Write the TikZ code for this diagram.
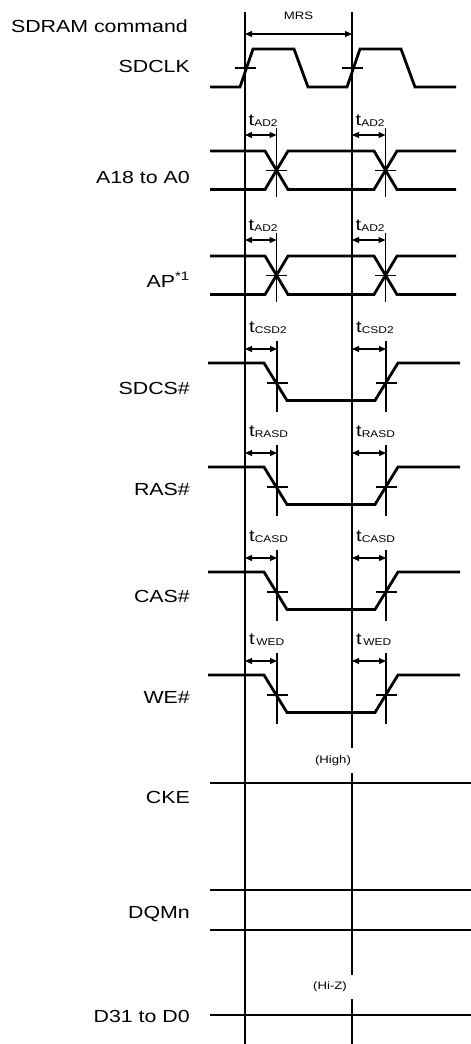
\documentclass[tikz,border=0pt]{standalone}
\usepackage{fontspec}
\setmainfont{Liberation Sans}[FakeStretch=1.22]
\usetikzlibrary{arrows.meta, positioning, calc}
\newcommand{\tsub}[1]{t\raisebox{-1.5pt}{\fontsize{9.8}{11}\selectfont #1}}

\begin{document}
\begin{tikzpicture}[x=1pt, y=-1pt,
   sig/.style = {line width=2.8pt},
   vline/.style = {line width=1.2pt},
   tick/.style = {line width=1.1pt},
   dim/.style = {line width=1.1pt,
     {Triangle[length=7pt,width=6pt]}-{Triangle[length=7pt,width=6pt]}},
   signame/.style = {anchor=base east, inner sep=0pt,
     font=\fontsize{17.5}{20}\selectfont},
   note/.style = {inner sep=0pt, font=\fontsize{10.8}{12}\selectfont},
   tlabel/.style = {anchor=base west, inner sep=0pt,
     font=\fontsize{16.5}{18}\selectfont}]
   \useasboundingbox (0,0) rectangle (471,1044);

   % reference edges
   \foreach \i/\x in {1/245, 2/352} {
     \coordinate (top\i) at (\x,12);
     \coordinate (bot\i) at (\x,1044);
     \draw[vline] (top\i) -- (bot\i);
   }
   \node[note] (mrs) at (298.5,15.5) {MRS};
   \coordinate (mrsL) at (245,34);
   \coordinate (mrsR) at (352,34);
   \draw[dim] (mrsL) -- (mrsR);

   % signal names
   \node[signame] (cmd) at (188,32) {SDRAM command};
   \foreach \n/\y/\s in {clk/72/SDCLK, addr/183/A18 to A0,
       ap/287/AP\textsuperscript{*1}, cs/394/SDCS\#, ras/495/RAS\#,
       cas/602/CAS\#, we/703/WE\#, cke/803/CKE, dqm/918/DQMn,
       data/1022/D31 to D0}
     \node[signame] (\n) at (190,\y) {\s};

   % SDCLK
   \draw[sig] (210,87) foreach \t in {245,352}
     { -- (\t-5,87) -- (\t+8,49) -- (\t+49,49) -- (\t+63,87) } -- (456,87);
   \foreach \t in {245,352}
     \draw[tick] (\t-10.5,68) -- (\t+10.5,68);

   % address rows
   \foreach \n/\y/\s in {addr/151/AD2, ap/256/AD2} {
     \draw[sig] (210,\y) -- (265,\y) -- (288,\y+38.5) -- (374,\y+38.5)
       -- (397,\y) -- (456,\y);
     \draw[sig] (210,\y+38.5) -- (265,\y+38.5) -- (288,\y) -- (374,\y)
       -- (397,\y+38.5) -- (456,\y+38.5);
     \foreach \i/\m/\l in {1/245/276.5, 2/352/385.5} {
       \draw[tick] (\l,\y-23) -- (\l,\y+46);
       \draw[tick] (\l-10.5,\y+19.25) -- (\l+10.5,\y+19.25);
       \coordinate (\n a\i) at (\m,\y-16);
       \coordinate (\n b\i) at (\l,\y-16);
       \draw[dim] (\n a\i) -- (\n b\i);
       \node[tlabel] (\n t\i) at (\m+3.5,\y-26) {\tsub{\s}};
     }
   }

   % control rows
   \foreach \n/\y/\s in {cs/363/CSD2, ras/467/RASD, cas/572/CASD,
       we/675/\,WED} {
     \draw[sig] (208,\y) -- (264,\y) -- (287,\y+37.5) -- (375,\y+37.5)
       -- (398,\y) -- (460,\y);
     \foreach \i/\m/\l in {1/245/277, 2/352/386} {
       \draw[tick] (\l,\y-22) -- (\l,\y+49);
       \draw[tick] (\l-10.5,\y+20) -- (\l+10.5,\y+20);
       \coordinate (\n a\i) at (\m,\y-14);
       \coordinate (\n b\i) at (\l,\y-14);
       \draw[dim] (\n a\i) -- (\n b\i);
       \node[tlabel] (\n t\i) at (\m+4,\y-31) {\tsub{\s}};
     }
   }

   % static rows
   \foreach \n/\y in {cke/783, dqmh/890, dqml/930, dat/1015} {
     \coordinate (\n L) at (210,\y);
     \coordinate (\n R) at (471,\y);
     \draw[sig] (\n L) -- (\n R);
   }
   \node[note, fill=white, minimum width=48pt, minimum height=25pt]
     (high) at (333,760.5) {(High)};
   \node[note, fill=white, minimum width=48pt, minimum height=24pt]
     (hiz) at (330,987) {(Hi-Z)};
\end{tikzpicture}
\end{document}
